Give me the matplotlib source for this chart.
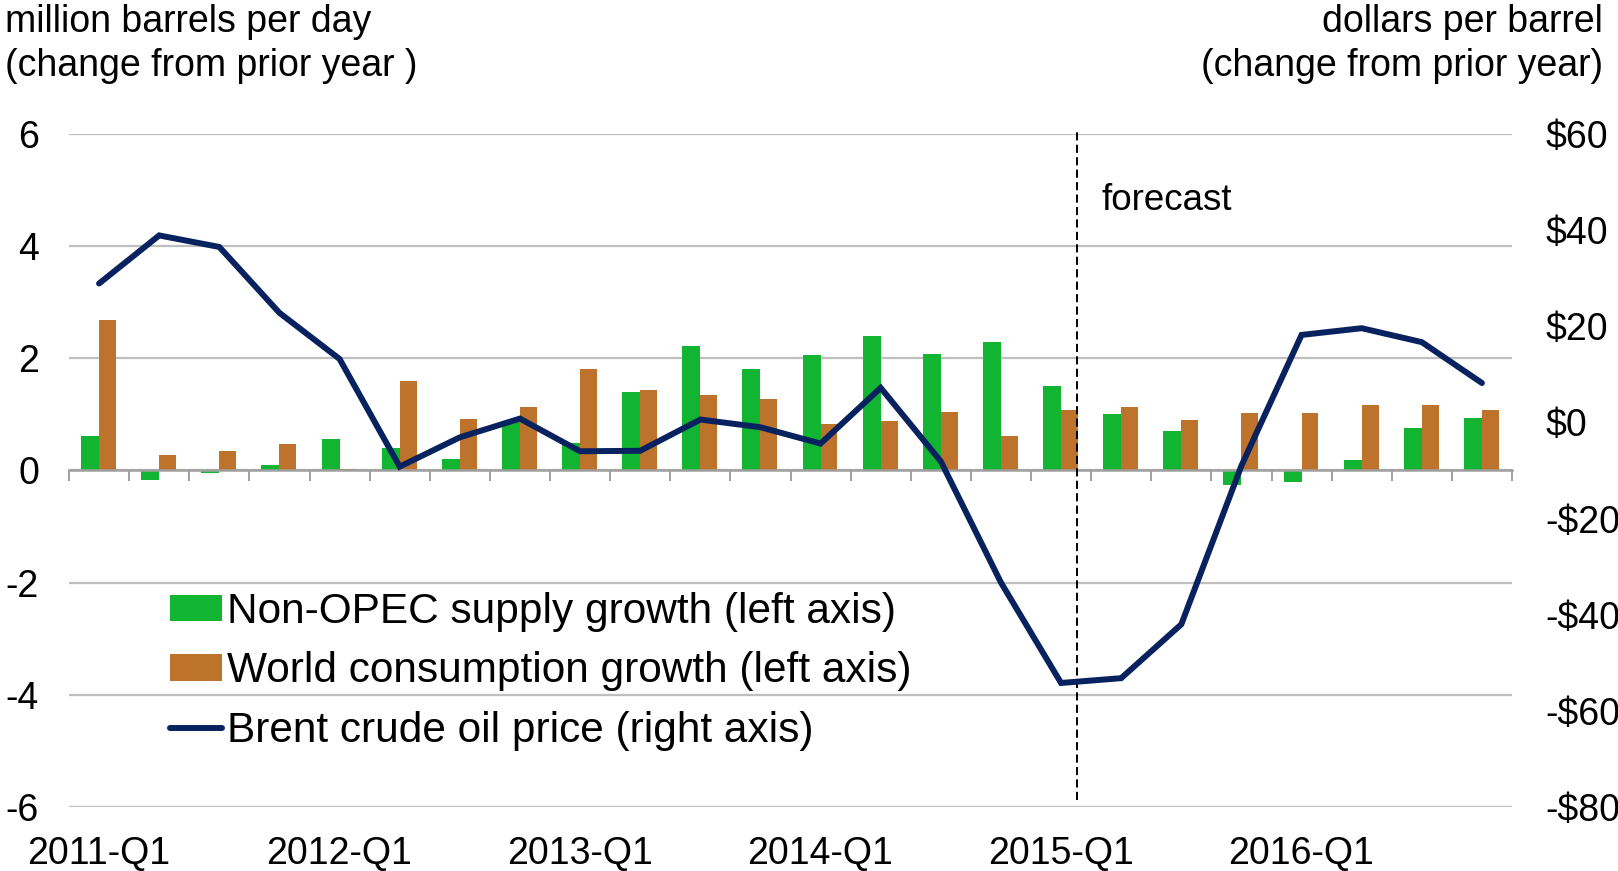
import matplotlib
matplotlib.use("Agg")
import matplotlib.pyplot as plt
import numpy as np

# ---------------- data ----------------
quarters = [f"{y}-Q{q}" for y in range(2011, 2017) for q in range(1, 5)]
non_opec = [0.61, -0.17, -0.04, 0.09, 0.56, 0.40, 0.20, 0.88,
            0.49, 1.40, 2.22, 1.81, 2.06, 2.40, 2.08, 2.29,
            1.51, 1.01, 0.71, -0.26, -0.20, 0.19, 0.76, 0.93]
world_cons = [2.68, 0.27, 0.34, 0.48, 0.02, 1.60, 0.92, 1.125,
              1.81, 1.43, 1.34, 1.27, 0.83, 0.89, 1.05, 0.61,
              1.07, 1.14, 0.90, 1.02, 1.02, 1.17, 1.17, 1.08]
brent = [28.9, 38.9, 36.5, 22.8, 13.2, -9.2, -3.1, 0.8,
         -6.0, -5.9, 0.6, -1.0, -4.4, 7.2, -8.1, -33.3,
         -54.2, -53.2, -42.0, -9.0, 18.2, 19.6, 16.7, 8.2]
left_ticks = [-6, -4, -2, 0, 2, 4, 6]
right_ticks = [-80, -60, -40, -20, 0, 20, 40, 60]
label_quarters = ["2011-Q1", "2012-Q1", "2013-Q1", "2014-Q1", "2015-Q1", "2016-Q1"]
forecast_pos = 16.26  # between 2015-Q1 and 2015-Q2

GREEN = "#12B531"
ORANGE = "#BD732C"
NAVY = "#08225F"
GRID = "#BFBFBF"
ZERO = "#A0A0A0"

plt.rcParams['font.family'] = ['Liberation Sans', 'DejaVu Sans']

fig = plt.figure(figsize=(16.18, 8.71), dpi=100)
ax = fig.add_axes([69/1618, 1-807/871, (1512-69)/1618, (807-134)/871])
ax2 = ax.twinx()

x = np.arange(len(quarters))
ax.bar(x - 0.15, non_opec, width=0.30, color=GREEN, label="Non-OPEC supply growth (left axis)", zorder=3)
ax.bar(x + 0.14, world_cons, width=0.28, color=ORANGE, label="World consumption growth (left axis)", zorder=3)
ln, = ax2.plot(x, brent, color=NAVY, lw=4.3, solid_capstyle='round', solid_joinstyle='miter',
               label="Brent crude oil price (right axis)", zorder=4)

ax.set_xlim(-0.5, len(quarters) - 0.5)
ax.set_ylim(-6, 6)
ax2.set_ylim(-80, 60)

# grid
ax.set_yticks(left_ticks)
ax.set_yticklabels([f"{v}" for v in left_ticks])
ax.set_axisbelow(True)
ax.yaxis.grid(True, color=GRID, lw=1.6)
ax.tick_params(axis='y', length=0, pad=21.6, labelsize=27)

ax2.set_yticks(right_ticks)
ax2.set_yticklabels([f"${v}" if v >= 0 else f"-${-v}" for v in right_ticks])
ax2.tick_params(axis='y', length=0, pad=23.8, labelsize=27)

for a in (ax, ax2):
    for s in ('top', 'left', 'right', 'bottom'):
        a.spines[s].set_visible(False)

# zero axis with category boundary ticks
ax.spines['bottom'].set_visible(True)
ax.spines['bottom'].set_position(('data', 0))
ax.spines['bottom'].set_color(ZERO)
ax.spines['bottom'].set_linewidth(1.8)
ax.spines['bottom'].set_zorder(5)
ax.set_xticks(np.arange(len(quarters) + 1) - 0.5)
ax.tick_params(axis='x', direction='out', length=8, width=1.4, color=ZERO, labelbottom=False)

# category labels at the bottom
sec = ax.secondary_xaxis(0.0)
sec.set_xticks([quarters.index(q) for q in label_quarters])
sec.set_xticklabels(label_quarters)
sec.tick_params(axis='x', length=0, pad=21, labelsize=27)
for s in sec.spines.values():
    s.set_visible(False)

# forecast divider
ax.axvline(forecast_pos, ymin=0.01, ymax=1.008, color='black', lw=1.4,
           dashes=(4.2, 2.2), clip_on=False, zorder=6)
ax.text(forecast_pos + 0.41, 4.82, "forecast", fontsize=26.5, va='center', ha='left')

# axis titles
fig.text(5/1618, 1-32/871, "million barrels per day", fontsize=27, ha='left', va='baseline')
fig.text(5/1618, 1-76/871, "(change from prior year )", fontsize=27, ha='left', va='baseline')
fig.text(1603/1618, 1-32/871, "dollars per barrel", fontsize=27, ha='right', va='baseline')
fig.text(1603/1618, 1-76/871, "(change from prior year)", fontsize=27, ha='right', va='baseline')

# legend
h1, l1 = ax.get_legend_handles_labels()
h2, l2 = ax2.get_legend_handles_labels()
leg = ax2.legend(h1 + h2, l1 + l2, loc='upper left', bbox_to_anchor=(170/1618, 1-592/871),
                 bbox_transform=fig.transFigure, frameon=False, fontsize=30.5,
                 handlelength=1.23, handletextpad=0.12, labelspacing=0.46,
                 borderpad=0, borderaxespad=0, handleheight=0.58)

fig.savefig("out.png", dpi=100)
